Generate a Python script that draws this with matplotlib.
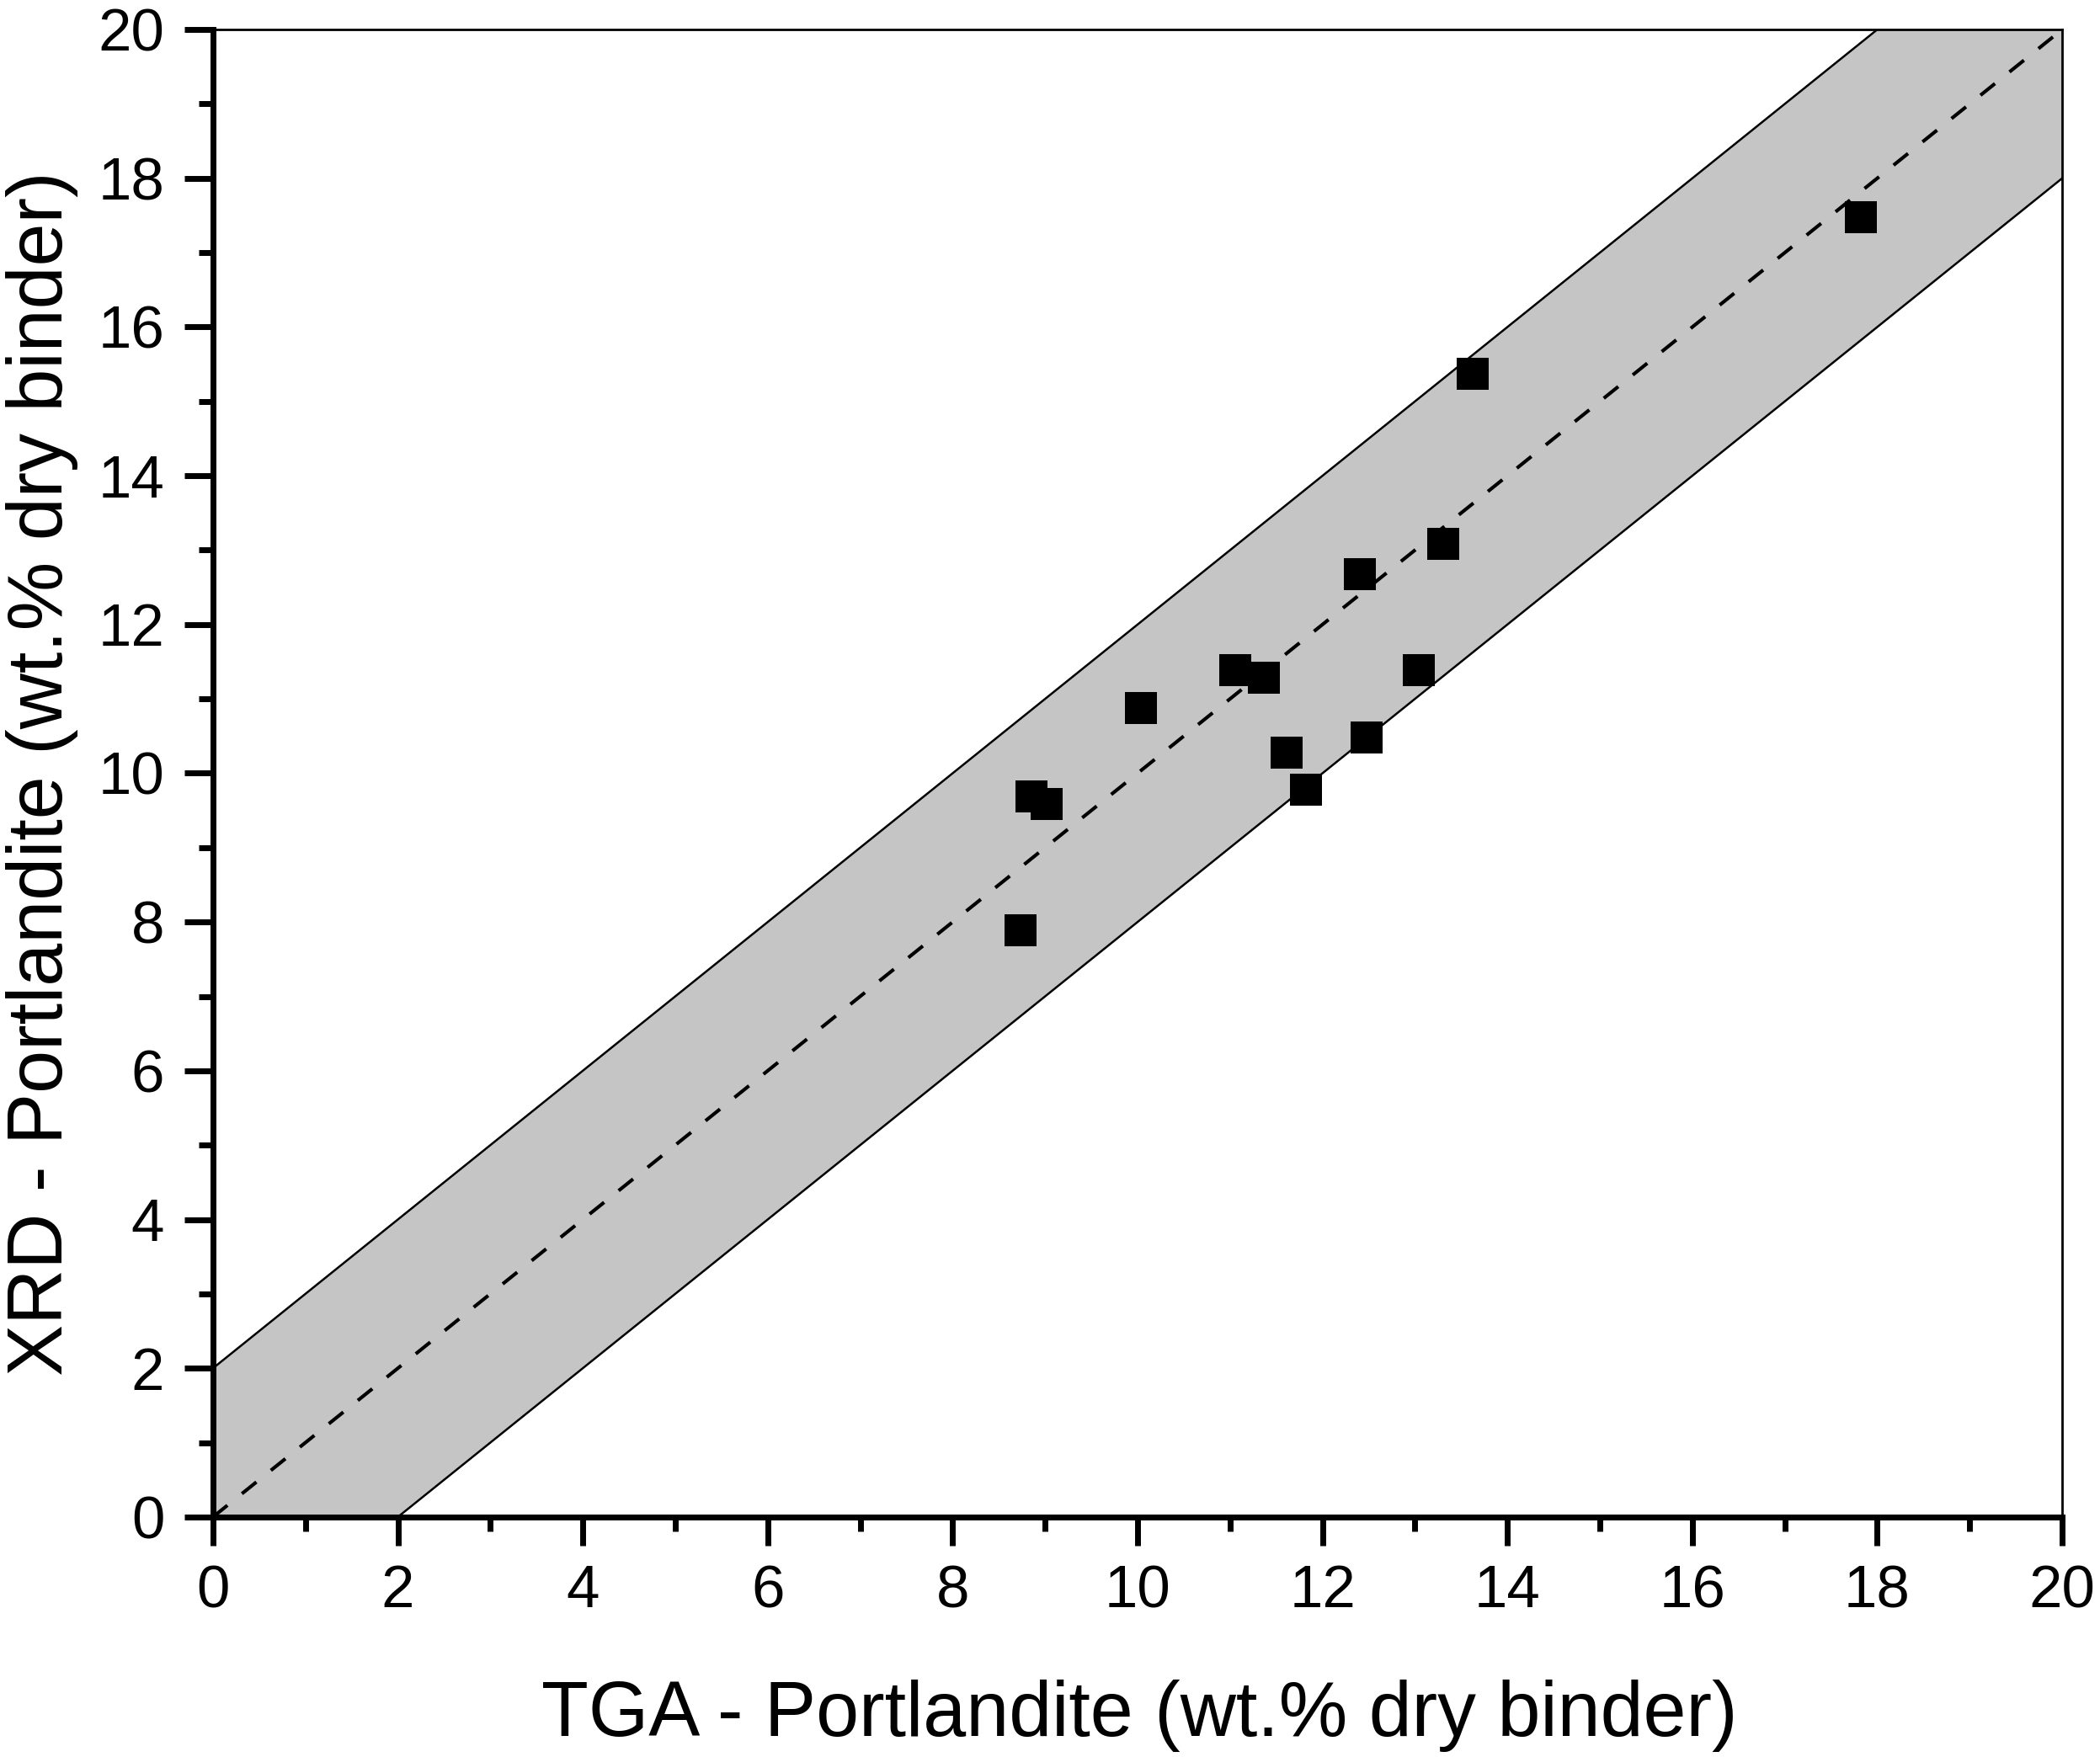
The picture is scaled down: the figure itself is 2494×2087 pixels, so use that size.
import numpy as np
import matplotlib
matplotlib.use('Agg')
import matplotlib.pyplot as plt

# data (wt.% dry binder)
tga = [8.73, 8.85, 9.02, 10.04, 11.06, 11.37, 11.61, 11.82, 12.40, 12.48, 13.04, 13.31, 13.62, 17.82]
xrd = [7.89, 9.69, 9.59, 10.88, 11.39, 11.28, 10.28, 9.78, 12.68, 10.48, 11.39, 13.08, 15.37, 17.48]

band = 2.0
line_x = [0, 20]

plt.rcParams['font.family'] = ['Liberation Sans', 'DejaVu Sans']

fig = plt.figure(figsize=(24.94, 20.87), dpi=100)
ax = fig.add_axes([0.1014, 0.1366, 0.8806, 0.8466])

xx = np.array(line_x, dtype=float)
ax.fill_between(xx, xx - band, xx + band, color='#c5c5c5', linewidth=0, zorder=1)
ax.plot(xx, xx + band, color='black', linewidth=1.8, zorder=2)
ax.plot(xx, xx - band, color='black', linewidth=1.8, zorder=2)
ax.plot(xx, xx, color='black', linewidth=3, dashes=(5.3, 5.3), zorder=2)

ax.scatter(tga, xrd, marker='s', s=27.5 ** 2, color='black', linewidths=0, zorder=3)

ax.set_xlim(0, 20)
ax.set_ylim(0, 20)
ax.set_xticks(np.arange(0, 21, 2))
ax.set_yticks(np.arange(0, 21, 2))
ax.set_xticks(np.arange(1, 20, 2), minor=True)
ax.set_yticks(np.arange(1, 20, 2), minor=True)

ax.tick_params(which='major', direction='out', length=24.5, width=5, labelsize=51)
ax.tick_params(axis='x', which='major', pad=16)
ax.tick_params(axis='y', which='major', pad=17)
ax.tick_params(which='minor', direction='out', length=12, width=5)
ax.tick_params(top=False, right=False)

for side in ['left', 'bottom']:
    ax.spines[side].set_linewidth(5)
for side in ['top', 'right']:
    ax.spines[side].set_linewidth(2)

ax.set_xlabel('TGA - Portlandite (wt.% dry binder)', fontsize=66, va='baseline')
ax.set_ylabel('XRD - Portlandite (wt.% dry binder)', fontsize=66, va='baseline')
ax.xaxis.set_label_coords(0.501, -0.1471)
ax.yaxis.set_label_coords(-0.0815, 0.5)

plt.savefig('out.png', dpi=100)
